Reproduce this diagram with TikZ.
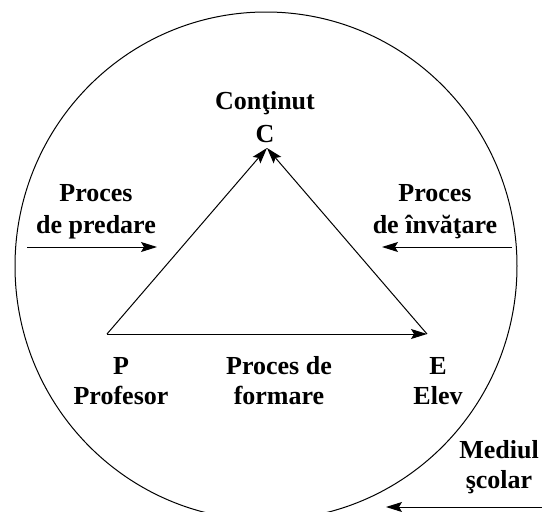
\documentclass[tikz,border=0pt]{standalone}
\usepackage{fontspec}
\setmainfont{Liberation Serif}
\usetikzlibrary{arrows.meta}
\begin{document}
\begin{tikzpicture}[x=1pt,y=-1pt,
  lbl/.style={font=\fontsize{26}{32}\selectfont\bfseries, align=center, inner sep=0pt},
  lblb/.style={font=\fontsize{26}{30}\selectfont\bfseries, align=center, inner sep=0pt},
  arr/.style={line width=1pt, -{Stealth[length=16pt,width=10pt,inset=3pt]}},
  ln/.style={line width=1pt}]
\useasboundingbox (0,0) rectangle (542,512);
\draw[ln] (266,266) ellipse [x radius=251, y radius=254];
\coordinate (P) at (107,334);
\coordinate (E) at (427,334);
\coordinate (C) at (267,148);
\draw[arr] (P) -- (C);
\draw[arr] (E) -- (C);
\draw[arr] (P) -- (E);
\node[lbl, font=\fontsize{26}{33}\selectfont\bfseries] (cont) at (265,117) {Conţinut\\C};
\node[lbl] (pred) at (96,212) {Proces\\de predare};
\node[lbl] (inv) at (435,212) {Proces\\de învăţare};
\node[lblb] (prof) at (121,381) {P\\Profesor};
\node[lblb] (form) at (279,381) {Proces de\\formare};
\node[lblb] (elev) at (438,381) {E\\Elev};
\node[lblb] (med) at (499,467) {Mediul\\şcolar};
\coordinate (a1) at (27,247);
\coordinate (a2) at (157,247);
\coordinate (b1) at (512,247);
\coordinate (b2) at (382,247);
\coordinate (c1) at (542,507);
\coordinate (c2) at (386,507);
\draw[arr] (a1) -- (a2);
\draw[arr] (b1) -- (b2);
\draw[arr] (c1) -- (c2);
\end{tikzpicture}
\end{document}
